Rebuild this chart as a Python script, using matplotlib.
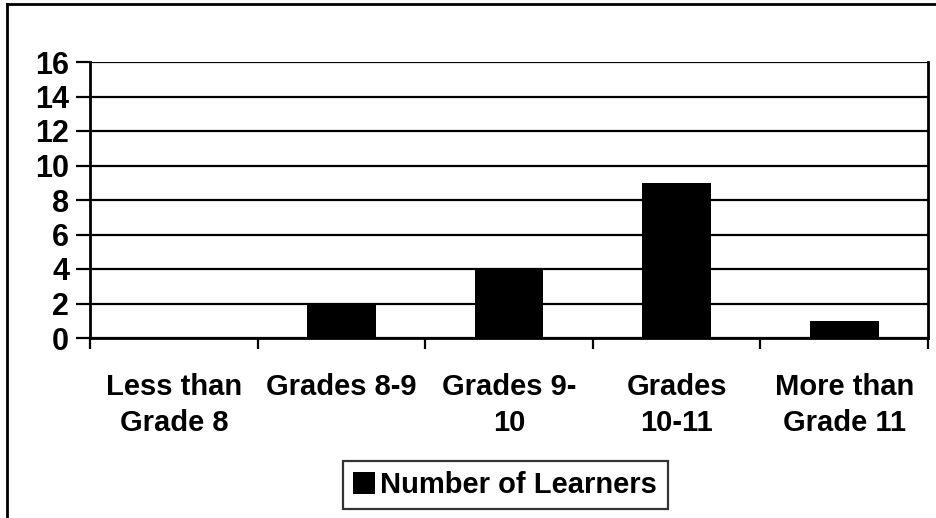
import numpy as np
import matplotlib.pyplot as plt
from matplotlib.lines import Line2D

# Data
categories = ['Less than\nGrade 8', 'Grades 8-9', 'Grades 9-\n10', 'Grades\n10-11', 'More than\nGrade 11']
learners = [0, 2, 4, 9, 1]
y_ticks = [0, 2, 4, 6, 8, 10, 12, 14, 16]

plt.rcParams['font.family'] = ['Liberation Sans', 'DejaVu Sans']
plt.rcParams['font.weight'] = 'bold'

fig = plt.figure(figsize=(9.37, 5.18), dpi=100)
ax = fig.add_axes([90 / 937, 1 - 338 / 518, (928 - 90) / 937, (338 - 62) / 518])

x = np.arange(len(categories))
bars = ax.bar(x, learners, width=0.41, color='black', label='Number of Learners', zorder=3)

ax.set_xlim(-0.5, len(categories) - 0.5)
ax.set_ylim(0, 16)
ax.set_yticks(y_ticks)
ax.yaxis.grid(True, color='black', linewidth=1.6, zorder=1)

ax.set_xticks(x)
ax.set_xticklabels(categories, fontsize=21, fontweight='bold', linespacing=1.38)
ax.set_xticks(np.arange(-0.5, len(categories)), minor=True)
ax.tick_params(axis='x', which='major', length=0, pad=25)
ax.tick_params(axis='x', which='minor', length=8, width=1.6, direction='out')
ax.tick_params(axis='y', length=10, width=1.6, labelsize=22, pad=5)
for lbl in ax.get_yticklabels():
    lbl.set_fontweight('bold')

for side in ['left', 'bottom', 'right']:
    ax.spines[side].set_linewidth(2)
    ax.spines[side].set_color('black')
ax.spines['top'].set_visible(False)

leg = fig.legend(handles=[bars], loc='center', bbox_to_anchor=(505 / 937, 1 - 485 / 518),
                 fancybox=False, frameon=True, edgecolor='black',
                 handlelength=0.75, handleheight=0.75, handletextpad=0.2,
                 borderpad=0.35, prop={'weight': 'bold', 'size': 21})
leg.get_frame().set_linewidth(1.6)

# figure border (left and top edges)
fig.add_artist(Line2D([7 / 937, 7 / 937], [0, 1 - 4 / 518], color='black', linewidth=2))
fig.add_artist(Line2D([7 / 937, 1], [1 - 4 / 518, 1 - 4 / 518], color='black', linewidth=2))

plt.savefig('out.png', dpi=100)
